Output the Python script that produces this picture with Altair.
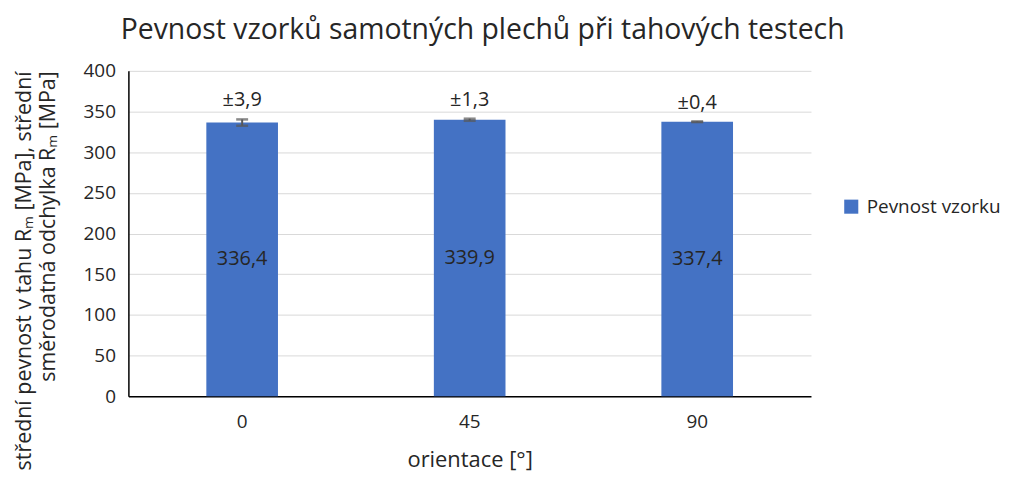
import altair as alt
import pandas as pd

cats = ["0", "45", "90"]
means = [336.4, 339.9, 337.4]
sds = [3.9, 1.3, 0.4]
mean_labels = ["336,4", "339,9", "337,4"]
sd_labels = ["±3,9", "±1,3", "±0,4"]
series = ["Pevnost vzorku"] * 3

df = pd.DataFrame({
    "orientace": cats,
    "mean": means,
    "sd": sds,
    "lo": [m - s for m, s in zip(means, sds)],
    "hi": [m + s for m, s in zip(means, sds)],
    "mlab": mean_labels,
    "slab": sd_labels,
    "serie": series,
})

FONT = "Open Sans"
TXT = "#262626"

x = alt.X("orientace:N", sort=cats, title="orientace [°]",
          scale=alt.Scale(paddingInner=0, paddingOuter=0),
          axis=alt.Axis(labelAngle=0, ticks=False, labelFontSize=19, titleFontSize=22,
                        labelPadding=16, titlePadding=19, domainColor="black",
                        labelColor=TXT, titleColor=TXT, titleFontWeight="normal",
                        domainWidth=1.5))

y_title = ["střední pevnost v tahu Rₘ [MPa], střední", "směrodatná odchylka Rₘ [MPa]"]

bars = alt.Chart(df).mark_bar(size=72).encode(
    x=x,
    y=alt.Y("mean:Q", title=y_title,
            scale=alt.Scale(domain=[0, 400]),
            axis=alt.Axis(values=list(range(0, 401, 50)), ticks=False, labelFontSize=19,
                          titleFontSize=21.5, titleLineHeight=24, titleFontWeight="normal",
                          titleAnchor="end", titleAlign="right",
                          labelPadding=13, titlePadding=24, gridColor="#D9D9D9",
                          domainColor="black", labelColor=TXT, titleColor=TXT,
                          domainWidth=1.5)),
    color=alt.Color("serie:N", scale=alt.Scale(range=["#4472C4"]),
                    legend=alt.Legend(title=None, orient="none", legendX=717, legendY=127,
                                      labelFontSize=19, symbolType="square", symbolSize=200,
                                      labelColor=TXT, symbolStrokeWidth=0, labelOffset=6)),
)

err = alt.Chart(df).mark_rule(color="#595959", strokeWidth=2).encode(
    x=alt.X("orientace:N", sort=cats), y="lo:Q", y2="hi:Q")
cap_lo = alt.Chart(df).mark_tick(color="#595959", thickness=2.5, size=12, orient="horizontal").encode(
    x=alt.X("orientace:N", sort=cats), y="lo:Q")
cap_hi = alt.Chart(df).mark_tick(color="#595959", thickness=2.5, size=12, orient="horizontal").encode(
    x=alt.X("orientace:N", sort=cats), y="hi:Q")

mtext = alt.Chart(df).transform_calculate(half="datum.mean/2").mark_text(
    fontSize=20, color=TXT, font=FONT).encode(
    x=alt.X("orientace:N", sort=cats), y="half:Q", text="mlab:N")

stext = alt.Chart(df).mark_text(fontSize=20, color=TXT, font=FONT, dy=-9,
                                baseline="bottom").encode(
    x=alt.X("orientace:N", sort=cats), y=alt.Y("hi:Q"), text="slab:N")

chart = alt.layer(bars, err, cap_lo, cap_hi, mtext, stext).properties(
    width=686, height=327,
    padding={"left": 5, "top": 6, "right": 0, "bottom": 0},
    title=alt.TitleParams("Pevnost vzorků samotných plechů při tahových testech",
                          fontSize=28.5, fontWeight="normal", color=TXT,
                          anchor="middle", offset=18, dx=13, font=FONT),
).configure(font=FONT).configure_view(stroke=None).configure_axisY(grid=True).configure_axisX(grid=False)

chart.save("out.html", embed_options={"renderer": "svg", "actions": False})
